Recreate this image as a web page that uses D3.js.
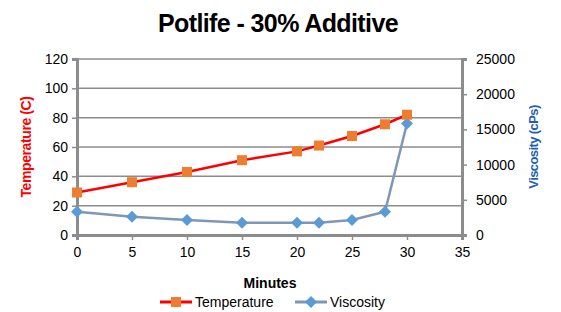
<!DOCTYPE html>
<html><head><meta charset="utf-8">
<script src="https://cdn.jsdelivr.net/npm/d3@7"></script>
<style>body{margin:0;background:#fff}svg{display:block}text{font-family:"Liberation Sans",Arial,sans-serif}</style>
</head><body><svg id="c" width="561" height="312"></svg>
<script>
const minutes = [0, 5, 10, 15, 20, 22, 25, 28, 30];
const temperature = [29, 36, 43, 51, 57, 61, 67.5, 75.5, 82];
const viscosity = [3300, 2600, 2130, 1750, 1750, 1750, 2130, 3300, 15850];
const xTicks = [0, 5, 10, 15, 20, 25, 30, 35];
const tTicks = [0, 20, 40, 60, 80, 100, 120];
const vTicks = [0, 5000, 10000, 15000, 20000, 25000];

const svg = d3.select("#c");
const L = 77, R = 462, T = 59, B = 235;
const x = d3.scaleLinear().domain([0, 35]).range([L, R]);
const yT = d3.scaleLinear().domain([0, 120]).range([B, T]);
const yV = d3.scaleLinear().domain([0, 25000]).range([B, T]);

svg.append("g").selectAll("line").data(tTicks.slice(1)).join("line")
  .attr("x1", L).attr("x2", R).attr("y1", d => yT(d)).attr("y2", d => yT(d))
  .attr("stroke", "#8c8c8c").attr("stroke-width", 1.5);

const gl = svg.append("g").attr("transform", `translate(${L},0)`)
  .call(d3.axisLeft(yT).tickValues(tTicks).tickSize(5).tickPadding(4));
const gr = svg.append("g").attr("transform", `translate(${R},0)`)
  .call(d3.axisRight(yV).tickValues(vTicks).tickFormat(d3.format("d")).tickSize(5).tickPadding(9));
const gb = svg.append("g").attr("transform", `translate(0,${B})`)
  .call(d3.axisBottom(x).tickValues(xTicks).tickSize(5).tickPadding(4));
[gl, gr, gb].forEach(g => {
  g.select(".domain").attr("stroke", "#8c8c8c").attr("stroke-width", 3);
  g.selectAll(".tick line").attr("stroke", "#8c8c8c").attr("stroke-width", 1.5);
  g.selectAll(".tick text").attr("font-size", 14).attr("fill", "#000")
   .attr("font-family", "'Liberation Sans',Arial,sans-serif");
});
gb.selectAll(".tick text").attr("dy", "0.9em");

const lineT = d3.line().x((d, i) => x(minutes[i])).y(d => yT(d));
const lineV = d3.line().x((d, i) => x(minutes[i])).y(d => yV(d));
svg.append("path").attr("d", lineV(viscosity)).attr("fill", "none")
  .attr("stroke", "#7f96b8").attr("stroke-width", 2.5);
svg.append("path").attr("d", lineT(temperature)).attr("fill", "none")
  .attr("stroke", "#ff0000").attr("stroke-width", 2.5);

const diamond = "M0,-6L6,0L0,6L-6,0Z";
svg.append("g").selectAll("path").data(viscosity).join("path")
  .attr("d", diamond)
  .attr("transform", (d, i) => `translate(${x(minutes[i])},${yV(d)})`)
  .attr("fill", "#5b9bd5");
svg.append("g").selectAll("rect").data(temperature).join("rect")
  .attr("x", (d, i) => x(minutes[i]) - 5).attr("y", d => yT(d) - 5)
  .attr("width", 10).attr("height", 10).attr("fill", "#ed7d31");

svg.append("text").attr("x", 278).attr("y", 32).attr("text-anchor", "middle")
  .attr("font-size", 25).attr("font-weight", "bold").attr("letter-spacing", -0.6)
  .text("Potlife - 30% Additive");
svg.append("text").attr("transform", "translate(31,147) rotate(-90)")
  .attr("text-anchor", "middle").attr("font-size", 14).attr("font-weight", "bold")
  .attr("fill", "#ff0000").attr("letter-spacing", -0.4).text("Temperature (C)");
svg.append("text").attr("transform", "translate(538,147) rotate(-90)")
  .attr("text-anchor", "middle").attr("font-size", 13).attr("font-weight", "bold")
  .attr("fill", "#1f5fae").attr("letter-spacing", -0.6).text("Viscosity  (cPs)");
svg.append("text").attr("x", 270).attr("y", 288).attr("text-anchor", "middle")
  .attr("font-size", 14).attr("font-weight", "bold").text("Minutes");

const leg = [
  {name: "Temperature", line: "#ff0000", mark: "#ed7d31", sq: true, x0: 160},
  {name: "Viscosity", line: "#7f96b8", mark: "#5b9bd5", sq: false, x0: 295}
];
leg.forEach(l => {
  const g = svg.append("g");
  g.append("line").attr("x1", l.x0).attr("x2", l.x0 + 32).attr("y1", 302).attr("y2", 302)
    .attr("stroke", l.line).attr("stroke-width", 3);
  if (l.sq) g.append("rect").attr("x", l.x0 + 11).attr("y", 297).attr("width", 10).attr("height", 10).attr("fill", l.mark);
  else g.append("path").attr("d", diamond).attr("transform", `translate(${l.x0 + 16},302)`).attr("fill", l.mark);
  g.append("text").attr("x", l.x0 + 35).attr("y", 307).attr("font-size", 14).text(l.name);
});
</script></body></html>
